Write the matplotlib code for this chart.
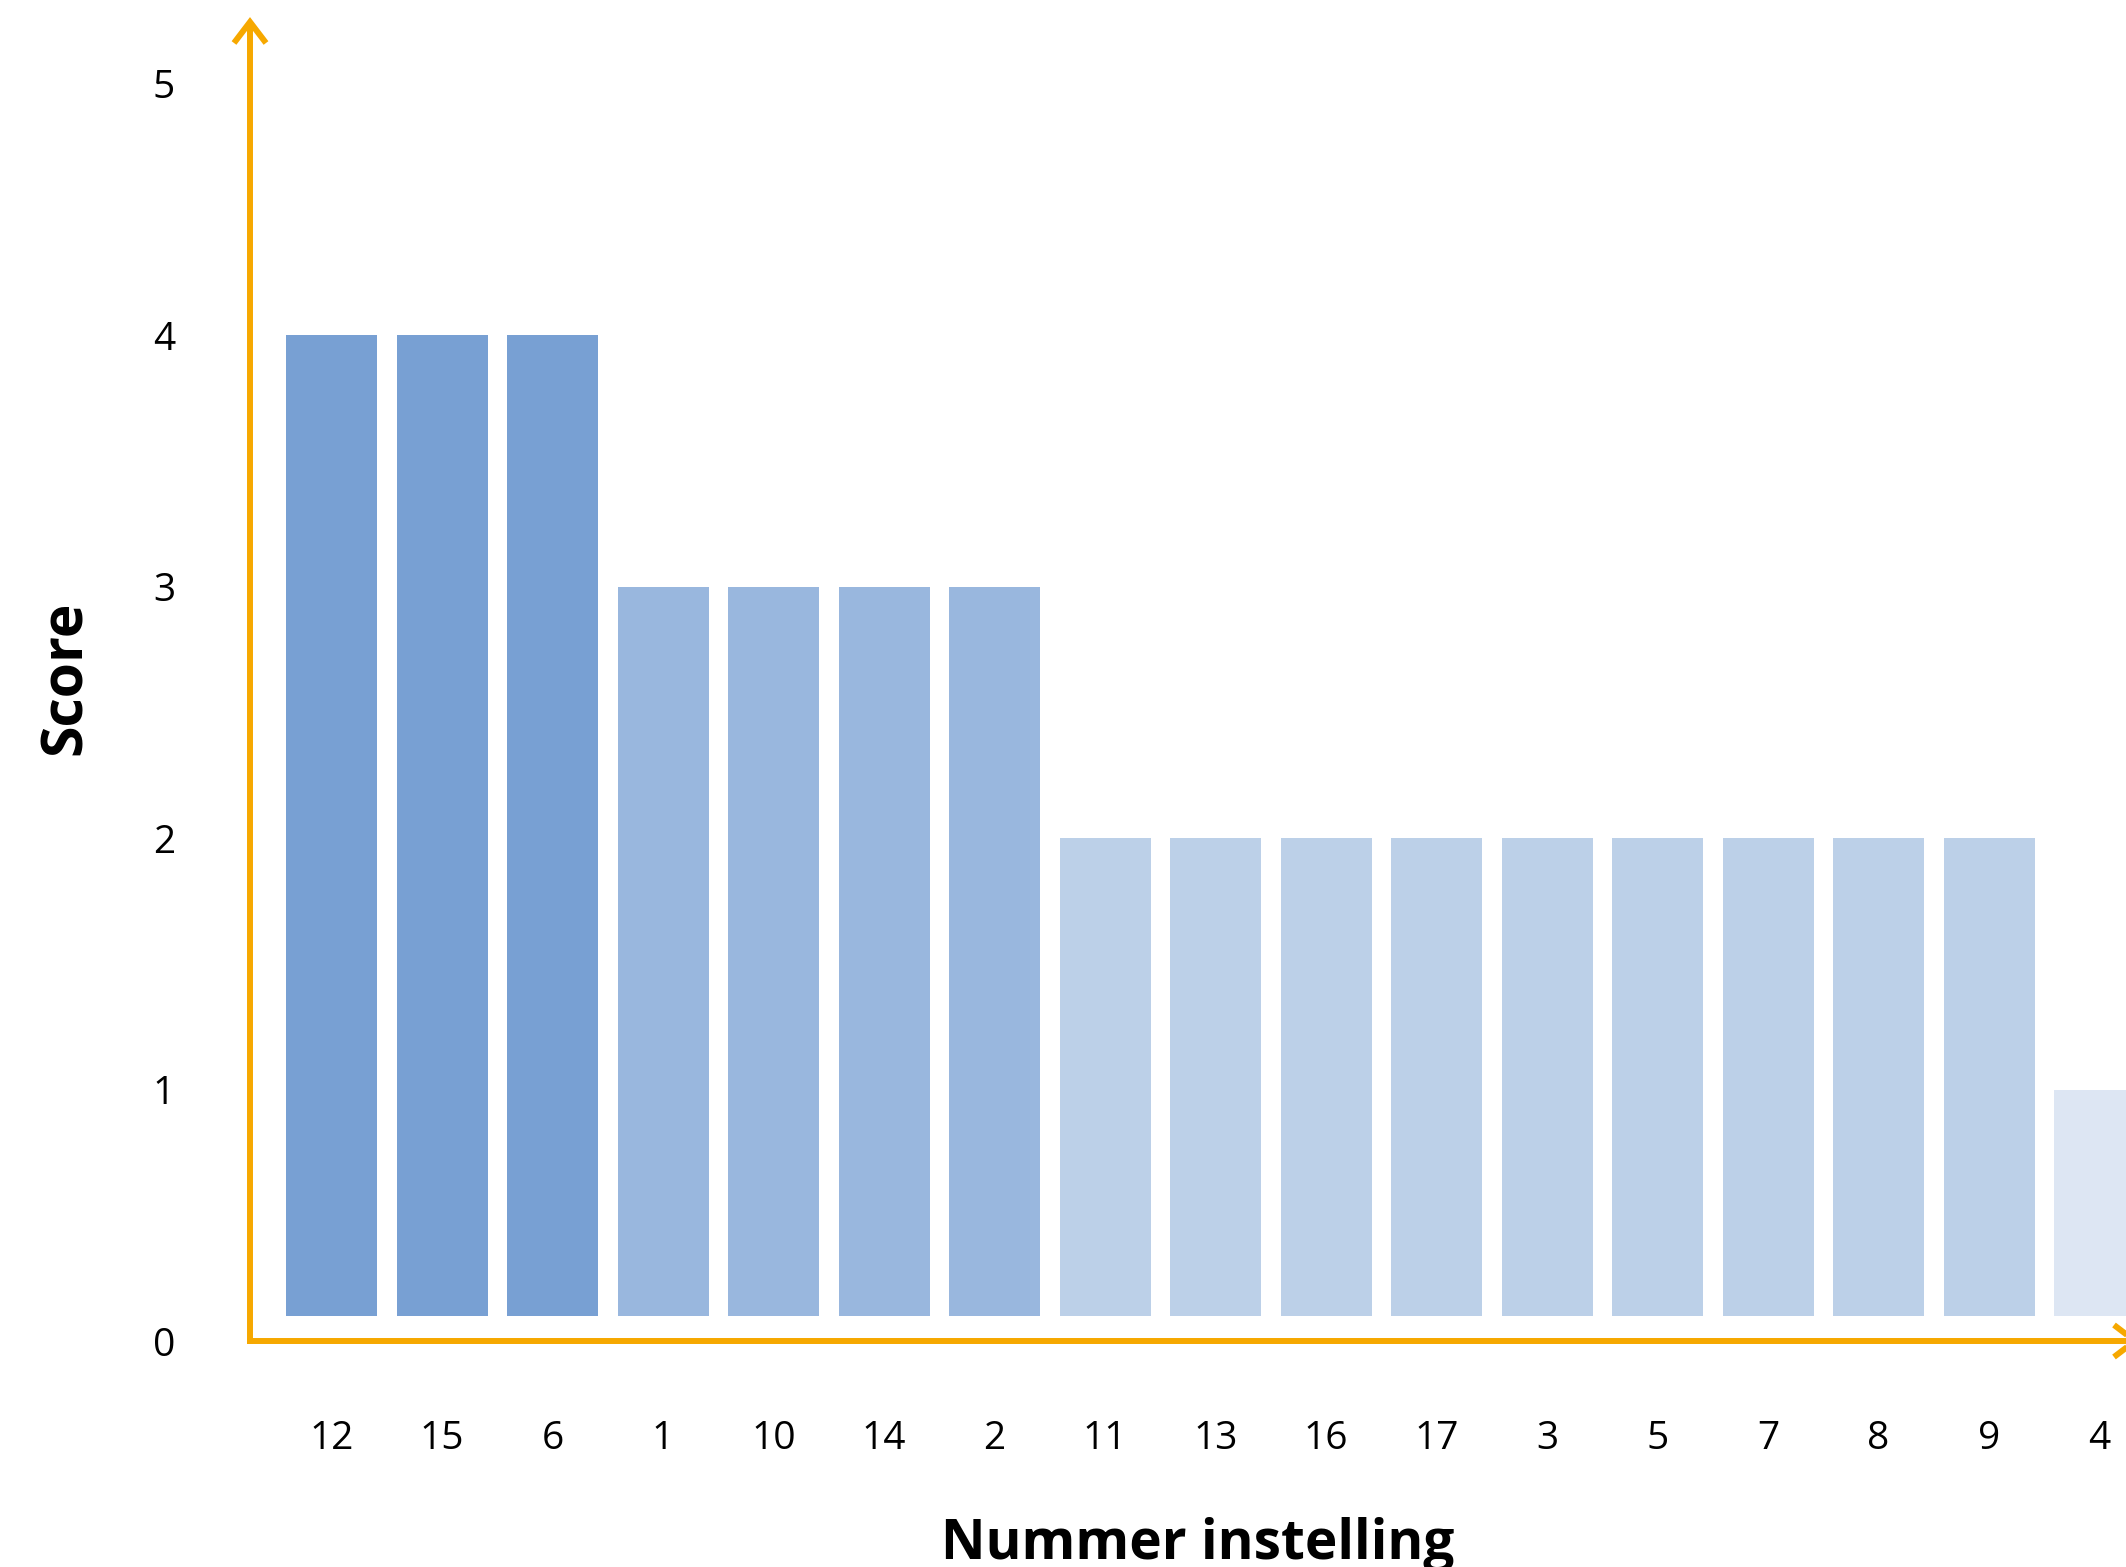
import numpy as np
import matplotlib.pyplot as plt

plt.rcParams['font.family'] = ['Open Sans', 'DejaVu Sans']

# scores per setting, sorted from high to low
instellingen = ['12', '15', '6', '1', '10', '14', '2', '11', '13', '16',
                '17', '3', '5', '7', '8', '9', '4']
scores = np.array([4, 4, 4, 3, 3, 3, 3, 2, 2, 2, 2, 2, 2, 2, 2, 2, 1])
score_kleuren = {4: '#78A0D3', 3: '#99B7DE', 2: '#BCD0E8', 1: '#DDE6F3'}
y_ticks = [0, 1, 2, 3, 4, 5]

oranje = '#F6A800'

fig = plt.figure(figsize=(21.26, 15.67), dpi=100)
W, H = 2126, 1567
ax_l, ax_r, ax_t, ax_b = 250, 2139, 18, 1341
ax = fig.add_axes([ax_l / W, (H - ax_b) / H, (ax_r - ax_l) / W, (ax_b - ax_t) / H])

x = np.arange(len(scores))
basis = 0.1  # bars float slightly above the axis
kleuren = [score_kleuren[s] for s in scores]
ax.bar(x, scores - basis, bottom=basis, width=0.823, color=kleuren)

ax.set_xlim(-0.738, 16.357)
ax.set_ylim(0, 5.262)

for sp in ax.spines.values():
    sp.set_visible(False)

# orange axes with open arrow heads
lw = 4.3
pw, ph = ax_r - ax_l, ax_b - ax_t
kw = dict(color=oranje, lw=lw, transform=ax.transAxes, clip_on=False,
          solid_capstyle='butt', solid_joinstyle='miter')
d = 4  # pull the mitered tip back a little
ax.plot([0, 0], [-3 / ph, 1 - d / ph], **kw)
ax.plot([-3 / pw, 1 - d / pw], [0, 0], **kw)
ax.plot([-16 / pw, 0, 16 / pw], [1 - (21 + d) / ph, 1 - d / ph, 1 - (21 + d) / ph], **kw)
ax.plot([1 - (21 + d) / pw, 1 - d / pw, 1 - (21 + d) / pw], [16 / ph, 0, -16 / ph], **kw)

ax.set_xticks(x)
ax.set_xticklabels(instellingen)
ax.set_yticks(y_ticks)
ax.set_yticklabels([str(t) for t in y_ticks])
ax.tick_params(axis='both', length=0, labelsize=28, colors='black')
ax.tick_params(axis='y', pad=54)
ax.tick_params(axis='x', pad=57)

fig.text(1198 / W, (H - 1559) / H, 'Nummer instelling', ha='center',
         va='baseline', fontsize=39.5, fontweight='bold')
fig.text(66 / W, (H - 678) / H, 'Score', ha='center', va='center',
         rotation=90, fontsize=41, fontweight='bold')

fig.savefig('out.png', dpi=100)
